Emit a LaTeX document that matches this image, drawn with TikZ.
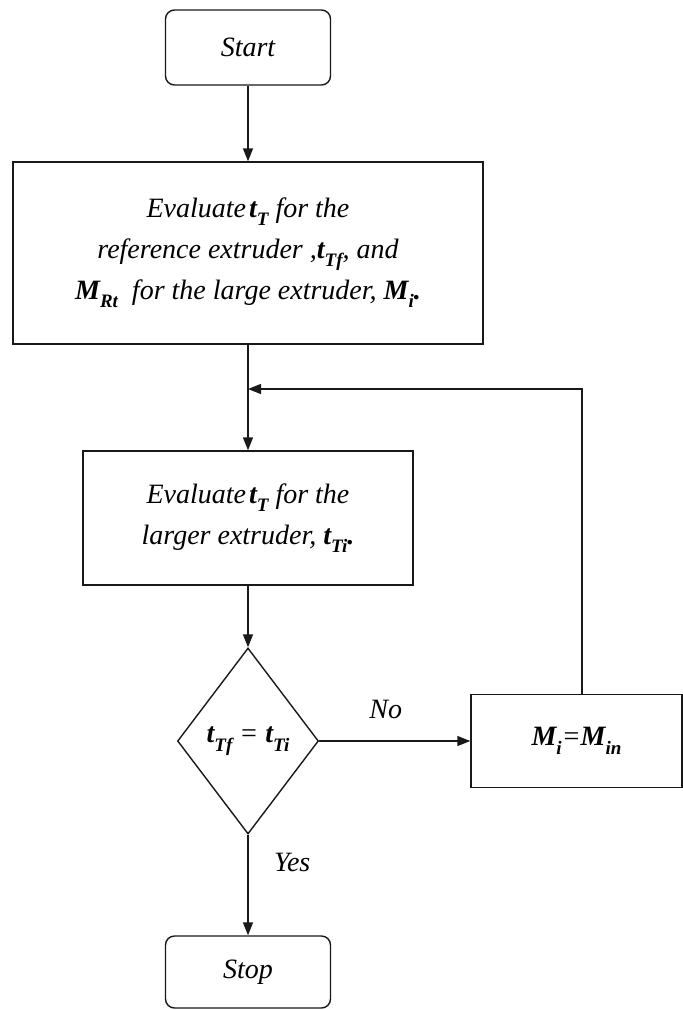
\documentclass[tikz,border=0pt]{standalone}
\usepackage{fontspec}
\setmainfont{Liberation Serif}
\usetikzlibrary{shapes.geometric,arrows.meta}
\definecolor{linegray}{RGB}{25,25,25}

\newcommand{\bsub}[2]{\textbf{#1}\raisebox{-0.3em}{\fontsize{19}{19}\selectfont\bfseries #2}}

\begin{document}
\begin{tikzpicture}[x=1pt, y=-1pt, >={Triangle[length=13pt,width=10pt]},
	box/.style={draw=linegray, line width=1.4pt, fill=white, align=center, inner sep=0pt, font=\fontsize{28}{41}\selectfont\itshape},
	term/.style={box, rounded corners=9pt},
	decision/.style={box, diamond, shape aspect=0.75},
	lbl/.style={font=\fontsize{28}{34}\selectfont\itshape},
	flow/.style={->, draw=linegray, line width=1.4pt}]
	
	\useasboundingbox (0,0) rectangle (683,1010);
	
	% START
	\node[term, minimum width=165pt, minimum height=75pt] (start) at (248,47.5) {Start};
	
	% STEP 1: REFERENCE EXTRUDER
	\node[box, minimum width=470pt, minimum height=182pt] (evalref) at (248,253)
		{Evaluate\hspace{3pt}\bsub{t}{T} for the\\ reference extruder ,\bsub{t}{Tf}, and\\ \bsub{M}{Rt}\ \ for the large extruder, \bsub{M}{i}\textbf{.}};
	
	% STEP 2: LARGER EXTRUDER
	\node[box, minimum width=330pt, minimum height=134pt] (evallarge) at (248,518)
		{Evaluate\hspace{3pt}\bsub{t}{T} for the\\ larger extruder, \bsub{t}{Ti}\textbf{.}};
	
	% TEST
	\node[decision, minimum width=141pt, minimum height=186pt] (test) at (248,741) {\bsub{t}{Tf} = \bsub{t}{Ti}};
	
	% UPDATE
	\node[box, minimum width=211pt, minimum height=93pt] (update) at (576.5,741) {\bsub{M}{i}=\bsub{M}{in}};
	
	% STOP
	\node[term, minimum width=165pt, minimum height=72pt] (stop) at (248,972) {Stop};
	
	% LOOP POINTS
	\coordinate (turn) at (582,389);
	\coordinate (merge) at (248,389);
	
	% ARROWS
	\draw[flow] (start) -- (evalref);
	\draw[flow] (evalref) -- (evallarge);
	\draw[flow] (evallarge) -- (test);
	\draw[flow] (test) -- node[lbl, pos=0.44, above=18pt] {No} (update);
	\draw[flow] (test) -- node[lbl, pos=0.28, right=22pt] {Yes} (stop);
	\draw[flow] (update.north -| turn) -- (turn) -- (merge);
	
\end{tikzpicture}
\end{document}
